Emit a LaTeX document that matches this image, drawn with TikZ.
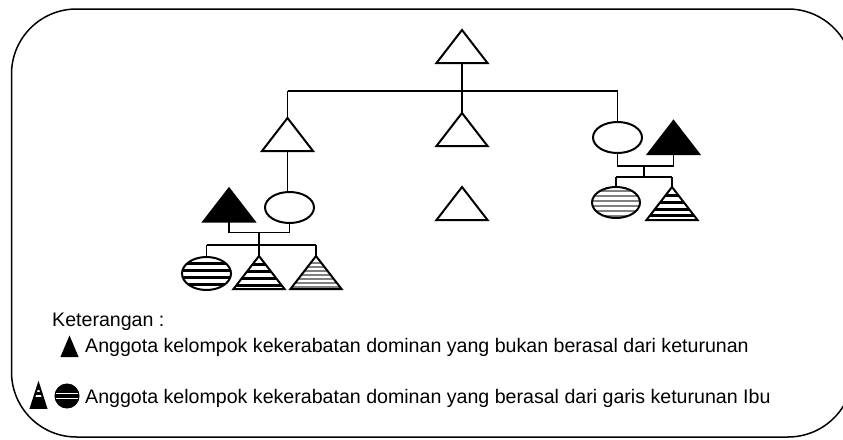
\documentclass[tikz,border=0pt]{standalone}
\usepackage{fontspec}
\setmainfont{Liberation Sans}
\usetikzlibrary{shapes.geometric,positioning,calc}

\tikzset{
  person/.style={draw, line width=2pt},
  link/.style={line width=1.8pt},
  egg/.style={person, ellipse, minimum width=49, minimum height=31, inner sep=0pt},
  bands/.style 2 args={path picture={
    \foreach \yy in {#1}
      \draw[#2] ([yshift=-\yy pt]path picture bounding box.north west) -- ([yshift=-\yy pt]path picture bounding box.north east);}},
  blackbands/.style={bands={#1}{line width=3pt}},
  greybands/.style={bands={#1}{gray, line width=2pt}},
  pics/tri/.style={code={
    \path[person,#1] (0,0) -- (25.5,33) -- (-25.5,33) -- cycle;
    \coordinate (-top) at (0,0);
    \coordinate (-bot) at (0,33);}},
  pics/tri/.default={},
  legend/.style={anchor=base west, inner sep=0pt, font=\fontsize{19.6}{24}\selectfont},
}

\begin{document}
\begin{tikzpicture}[x=1pt,y=-1pt]
    \useasboundingbox (0,0) rectangle (843,439);
    \clip (0,0) rectangle (843,439);
    \draw[line width=1.5pt, rounded corners=65] (11.5,9) rectangle (853,437);

    % Generation 1
    \pic (top) at (462,30) {tri};
    \coordinate (barL) at (287.5,91);
    \coordinate (barR) at (617.5,91);
    \draw[link] (barL) -- (barR);
    \draw[link] (top-bot) -- (top-bot |- barL);

    % Generation 2
    \pic (tL) at (287.5,118) {tri};
    \pic (tM) at (462,113) {tri};
    \node[egg] (wR) at (617.5,137.5) {};
    \draw[link] (barL) -- (tL-top);
    \draw[link] (top-bot |- barL) -- (tM-top);
    \draw[link] (barR) -- (wR.north);

    % Left family
    \node[egg] (wL) at (289.5,207.5) {};
    \pic (hL) at (229,188.5) {tri={fill=black}};
    \draw[link] (tL-bot) -- (tL-bot |- wL.north);
    \draw[link] (hL-bot) -- ++(0,11) coordinate (cL) -| (wL.south);
    \coordinate (sibL) at (259,245);
    \draw[link] (sibL |- cL) -- (sibL);
    \node[egg, blackbands={6,13,20,27}, minimum height=33] (kL1) at (206.5,273.5) {};
    \pic (kL2) at (259,256) {tri={blackbands={8,15,22,29}}};
    \pic (kL3) at (316,256) {tri={greybands={7,11,15,19,23,27,31}}};
    \draw[link] (kL1.north |- sibL) -- (kL3-top |- sibL);
    \draw[link] (kL1.north |- sibL) -- (kL1.north);
    \draw[link] (sibL) -- (kL2-top);
    \draw[link] (kL3-top |- sibL) -- (kL3-top);

    % Middle
    \pic (tM2) at (462,187) {tri};

    % Right family
    \pic (hR) at (673.5,121) {tri={fill=black}};
    \draw[link] (wR.south) -- ++(0,12) coordinate (cR) -| (hR-bot);
    \coordinate (sibR) at (644,177);
    \draw[link] (sibR |- cR) -- (sibR);
    \node[egg, minimum width=48, greybands={4,9,14,19,24,29}] (kR1) at (616,202.5) {};
    \pic (kR2) at (672,187) {tri={blackbands={8,15,22,28}}};
    \draw[link] (kR1.north |- sibR) -- (kR2-top |- sibR);
    \draw[link] (kR1.north |- sibR) -- (kR1.north);
    \draw[link] (kR2-top |- sibR) -- (kR2-top);

    % Keterangan
    \node[legend] (ket) at (52,326) {Keterangan :};
    \pic[xscale=0.3, yscale=0.55] (lg1) at (69.5,338) {tri={fill=black}};
    \node[legend] (txt1) at (85,352) {Anggota kelompok kekerabatan dominan yang bukan berasal dari keturunan};
    \pic[xscale=0.3, yscale=0.72] (lg2) at (38.5,384) {tri={fill=black, bands={10,17}{white, line width=2.5pt}}};
    \node[person, line width=1pt, circle, fill=black, minimum size=24, inner sep=0pt,
          bands={9.5,14.5}{white, line width=1.5pt}] (lg3) at (67,396) {};
    \node[legend] (txt2) at (85,403) {Anggota kelompok kekerabatan dominan yang berasal dari garis keturunan Ibu};
\end{tikzpicture}
\end{document}
